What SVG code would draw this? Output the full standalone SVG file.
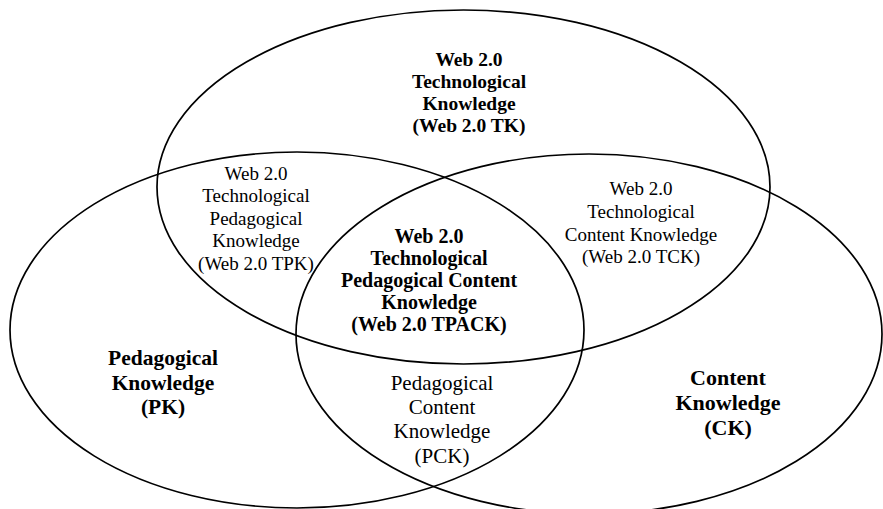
<svg xmlns="http://www.w3.org/2000/svg" width="883" height="509" viewBox="0 0 883 509">
<style>
.set{fill:none;stroke:#000;stroke-width:1.7}
text{font-family:"Liberation Serif","Times New Roman",serif;fill:#000;text-anchor:middle}
.b{font-weight:bold}
</style>
<rect width="883" height="509" fill="#fff"/>
<g id="tk">
<ellipse class="set" cx="463.5" cy="187" rx="306.5" ry="177"/>
<g class="b" font-size="19.5">
<text x="469" y="66">Web 2.0</text>
<text x="469" y="88">Technological</text>
<text x="469" y="110">Knowledge</text>
<text x="469" y="132">(Web 2.0 TK)</text>
</g>
</g>
<g id="pk">
<ellipse class="set" cx="297" cy="330" rx="287" ry="178"/>
<g class="b" font-size="21.5">
<text x="163" y="365">Pedagogical</text>
<text x="163" y="390">Knowledge</text>
<text x="163" y="414">(PK)</text>
</g>
</g>
<g id="ck">
<ellipse class="set" cx="589" cy="334" rx="293" ry="180"/>
<g class="b" font-size="22">
<text x="728" y="385">Content</text>
<text x="728" y="410">Knowledge</text>
<text x="728" y="435">(CK)</text>
</g>
</g>
<g id="tpk" font-size="19">
<text x="256" y="180">Web 2.0</text>
<text x="256" y="202">Technological</text>
<text x="256" y="225">Pedagogical</text>
<text x="256" y="247">Knowledge</text>
<text x="256" y="270">(Web 2.0 TPK)</text>
</g>
<g id="tck" font-size="19">
<text x="641" y="195">Web 2.0</text>
<text x="641" y="218">Technological</text>
<text x="641" y="241">Content Knowledge</text>
<text x="641" y="263">(Web 2.0 TCK)</text>
</g>
<g id="tpack" class="b" font-size="20">
<text x="429" y="243">Web 2.0</text>
<text x="429" y="265">Technological</text>
<text x="429" y="287">Pedagogical Content</text>
<text x="429" y="309">Knowledge</text>
<text x="429" y="331">(Web 2.0 TPACK)</text>
</g>
<g id="pck" font-size="21">
<text x="442" y="390">Pedagogical</text>
<text x="442" y="414">Content</text>
<text x="442" y="438">Knowledge</text>
<text x="442" y="463">(PCK)</text>
</g>
<g id="connectors"/>
</svg>
